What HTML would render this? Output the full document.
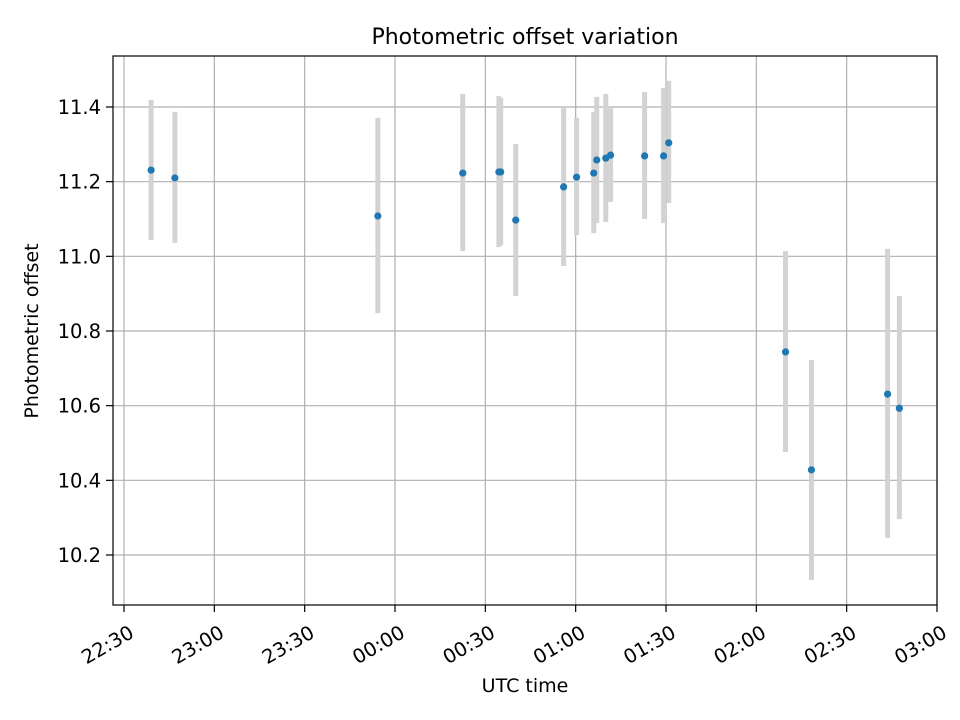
<!DOCTYPE html>
<html><head><meta charset="utf-8"><style>
body{margin:0;background:#fff}
svg{display:block;font-family:"DejaVu Sans","Liberation Sans",sans-serif}
</style></head><body>
<svg id="chart" width="960" height="720" viewBox="0 0 960 720">
<rect width="960" height="720" fill="#fff"/>
<text x="525" y="44" text-anchor="middle" font-size="22">Photometric offset variation</text>
<text x="525" y="692" text-anchor="middle" font-size="19">UTC time</text>
<text x="38" y="331" text-anchor="middle" font-size="19" transform="rotate(-90 38 331)">Photometric offset</text>
<g id="grid"></g><g id="errs"></g><g id="pts"></g><g id="ticks"></g>
<rect x="113" y="56" width="824" height="549" fill="none" stroke="#000" stroke-width="1.2"/>
</svg>
<script>
// minutes after 22:30 UTC
const times=[9.0,16.9,84.3,112.5,124.5,125.1,130.1,146.0,150.3,156.0,157.0,160.0,161.6,172.9,179.2,180.9,219.7,228.3,253.6,257.5];
const values=[11.231,11.210,11.108,11.223,11.226,11.226,11.097,11.186,11.212,11.223,11.258,11.263,11.271,11.269,11.269,11.304,10.744,10.428,10.631,10.593];
const errLow=[11.044,11.036,10.848,11.014,11.025,11.030,10.894,10.974,11.057,11.062,11.089,11.092,11.146,11.100,11.089,11.143,10.476,10.133,10.246,10.296];
const errHigh=[11.419,11.387,11.371,11.435,11.429,11.424,11.301,11.397,11.371,11.387,11.427,11.435,11.397,11.440,11.451,11.470,11.014,10.722,11.020,10.894];
const yTicks=[10.2,10.4,10.6,10.8,11.0,11.2,11.4];
const xTickMinutes=[0,30,60,90,120,150,180,210,240,270];
const xTickLabels=["22:30","23:00","23:30","00:00","00:30","01:00","01:30","02:00","02:30","03:00"];
const NS="http://www.w3.org/2000/svg";
const X=m=>124+m*(813/270);
const Y=v=>107+(11.4-v)*(448/1.2);
function mk(tag,attrs,parent){const e=document.createElementNS(NS,tag);for(const k in attrs)e.setAttribute(k,attrs[k]);document.getElementById(parent).appendChild(e);return e;}
yTicks.forEach((t,i)=>{
 const y=Y(t);
 const g=mk('line',{x1:113,x2:937,y1:y,y2:y,stroke:'#b0b0b0','stroke-width':1.2},'grid');
 
 
 const tk=mk('line',{x1:106,x2:113,y1:y,y2:y,stroke:'#000','stroke-width':1.2},'ticks');
 
 
 const tx=mk('text',{x:101,y:y+7,'text-anchor':'end','font-size':19.5},'ticks');
 tx.textContent=t.toFixed(1);
 
 
});
xTickMinutes.forEach((m,i)=>{
 const x=X(m);
 const g=mk('line',{x1:x,x2:x,y1:56,y2:605,stroke:'#b0b0b0','stroke-width':1.2},'grid');
 
 
 const tk=mk('line',{x1:x,x2:x,y1:605,y2:612,stroke:'#000','stroke-width':1.2},'ticks');
 
 
 const tx=mk('text',{x:x+4,y:624,'text-anchor':'end','font-size':19.5,transform:`rotate(-30 ${x+4} 624)`,'dominant-baseline':'hanging'},'ticks');
 tx.textContent=xTickLabels[i];
 
 
});
times.forEach((m,i)=>{
 const x=X(m);
 const e=mk('line',{x1:x,x2:x,y1:Y(errHigh[i]),y2:Y(errLow[i]),stroke:'#d3d3d3','stroke-width':5},'errs');
 
 
 const p=mk('circle',{cx:x,cy:Y(values[i]),r:3.6,fill:'#1f77b4'},'pts');
 
 
});
</script>
</body></html>
